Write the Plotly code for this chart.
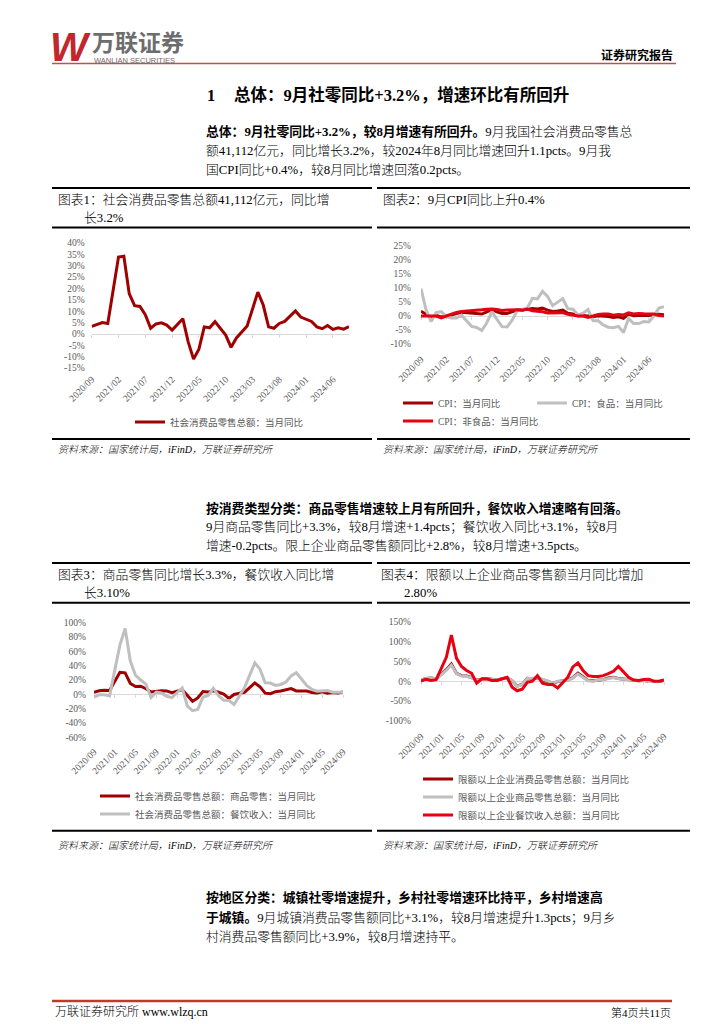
import plotly.graph_objects as go

W, H = 724, 1024

# ---------------- data ----------------
months = [
    "2020/09", "2020/10", "2020/11", "2020/12",
    "2021/01", "2021/02", "2021/03", "2021/04", "2021/05", "2021/06",
    "2021/07", "2021/08", "2021/09", "2021/10", "2021/11", "2021/12",
    "2022/01", "2022/02", "2022/03", "2022/04", "2022/05", "2022/06",
    "2022/07", "2022/08", "2022/09", "2022/10", "2022/11", "2022/12",
    "2023/01", "2023/02", "2023/03", "2023/04", "2023/05", "2023/06",
    "2023/07", "2023/08", "2023/09", "2023/10", "2023/11", "2023/12",
    "2024/01", "2024/02", "2024/03", "2024/04", "2024/05", "2024/06",
    "2024/07", "2024/08", "2024/09",
]

# 图表1 社会消费品零售总额：当月同比 (%)
retail_yoy = [3.3, 4.3, 5.0, 4.6,
              None, 33.8, 34.2, 17.7, 12.4, 12.1, 8.5, 2.5, 4.4, 4.9, 3.9, 1.7,
              None, 6.7, -3.5, -11.1, -6.7, 3.1, 2.7, 5.4, 2.5, -0.5, -5.9, -1.8,
              None, 3.5, 10.6, 18.4, 12.7, 3.1, 2.5, 4.6, 5.5, 7.6, 10.1, 7.4,
              None, 5.5, 3.1, 2.3, 3.7, 2.0, 2.7, 2.1, 3.2]

# 图表2 CPI (%)
cpi_yoy = [1.7, 0.5, -0.5, 0.2,
           -0.3, -0.2, 0.4, 0.9, 1.3, 1.1, 1.0, 0.8, 0.7, 1.5, 2.3, 1.5,
           0.9, 0.9, 1.5, 2.1, 2.1, 2.5, 2.7, 2.5, 2.8, 2.1, 1.6, 1.8,
           2.1, 1.0, 0.7, 0.1, 0.2, 0.0, -0.3, 0.1, 0.0, -0.2, -0.5, -0.3,
           -0.8, 0.7, 0.1, 0.3, 0.3, 0.2, 0.5, 0.6, 0.4]
cpi_food_yoy = [9.8, 2.2, -2.0, 1.2,
                1.6, -0.2, -0.7, -0.7, 0.3, -1.7, -3.7, -4.1, -5.2, -2.4, 1.6, -1.2,
                -3.8, -3.9, -1.5, 1.9, 2.3, 2.9, 6.3, 6.1, 8.8, 7.0, 3.7, 4.8,
                6.2, 2.6, 2.4, 0.4, 1.0, 2.3, -1.7, -1.7, -3.2, -4.0, -4.2, -3.7,
                -5.9, -0.9, -2.7, -2.7, -2.0, -2.1, 0.0, 2.8, 3.3]
cpi_nonfood_yoy = [0.0, 0.1, 0.0, 0.0,
                   -0.7, 0.0, 0.7, 1.3, 1.6, 1.7, 2.0, 2.1, 2.2, 2.4, 2.5, 2.3,
                   2.0, 2.1, 2.2, 2.2, 2.1, 2.5, 1.9, 1.8, 1.5, 1.1, 1.1, 1.1,
                   1.2, 0.6, 0.3, 0.0, 0.0, -0.5, 0.0, 0.5, 0.7, 0.7, 0.3, 0.5,
                   0.4, 1.1, 0.7, 0.9, 0.8, 0.8, 0.7, 0.2, 0.0]

# 图表3 商品零售 / 餐饮收入 (%)
goods_yoy = [2.9, 4.9, 5.8, 5.4,
             None, 30.7, 30.0, 15.1, 10.9, 11.3, 7.9, 3.3, 4.5, 5.2, 4.8, 2.5,
             None, 6.5, -2.1, -9.7, -5.0, 3.9, 3.2, 5.1, 3.0, 0.5, -5.6, -0.1,
             None, 2.9, 9.1, 15.9, 10.5, 1.7, 1.0, 3.7, 4.6, 6.5, 8.0, 4.8,
             None, 4.6, 2.7, 2.0, 3.6, 1.6, 2.7, 1.9, 3.3]
catering_yoy = [-4.0, -0.6, -0.6, -2.1,
                None, 68.9, 91.6, 46.4, 26.6, 20.0, 14.3, -4.5, 3.1, 2.0, -2.7, -4.5,
                None, 8.9, -16.4, -22.7, -21.1, -4.0, -1.5, 8.4, -1.7, -8.1, -8.4, -14.1,
                None, 9.2, 26.3, 43.8, 35.1, 16.1, 15.8, 12.4, 13.8, 17.1, 25.8, 30.0,
                None, 12.5, 6.9, 4.4, 5.0, 5.4, 3.0, 3.3, 3.1]

# 图表4 限额以上企业 (%)
above_total_yoy = [3, 7, 8, 6,
                   None, 29, 43, 20, 14, 13, 9, 3, 5, 6, 5, 3,
                   None, 9, 1, -12, -8, 7, 6, 8, 4, 0, -5, -1,
                   None, 3, 9, 20, 11, 2, 1, 3, 4, 8, 10, 7,
                   None, 4, 2, 1, 2, -1, -1, -1, 2]
above_goods_yoy = [3, 7, 8, 6,
                   None, 27, 40, 19, 13, 12, 9, 2, 5, 6, 5, 3,
                   None, 9, 2, -13, -8, 7, 7, 8, 5, 1, -5, 0,
                   None, 2, 8, 18, 10, 1, 0, 3, 4, 7, 9, 6,
                   None, 4, 2, 1, 2, -1, -1, -1, 2.8]
above_catering_yoy = [0, 5, 2, 4,
                      None, 60, 116, 58, 37, 27, 20, -5, 6, 6, 2, 2,
                      None, 10, -15, -24, -20, -3, 0, 14, -5, -8, -8, -17,
                      None, 10, 36, 46, 27, 14, 12, 12, 14, 19, 25, 37,
                      None, 10, 3, 2, 4, 5, 0, 0, 3]

# ---------------- style ----------------
DARK_RED = "#a00000"
GRAY = "#bfbfbf"
RED = "#e50012"
AXIS_GRAY = "#d9d9d9"
LABEL_GRAY = "#595959"
CJK_FONT = "Liberation Serif, Noto Sans CJK SC"
TICK_FONT = dict(family="Liberation Serif, Noto Sans CJK SC", size=9.5, color=LABEL_GRAY)


def fx(p):
    return p / W


def fy(p):
    return 1 - p / H


idx = list(range(len(months)))

charts = [
    dict(left=91.7, right=349, top=243, bottom=368, yr=(-15, 40), ystep=5, xstep=5, gap=6, xgap=3,
         series=[(retail_yoy, DARK_RED, "社会消费品零售总额：当月同比", (135, 422))]),
    dict(left=421, right=664, top=246, bottom=344, yr=(-10, 25), ystep=5, xstep=5, gap=9, xgap=7,
         series=[(cpi_yoy, DARK_RED, "CPI：当月同比", (403, 403)),
                 (cpi_food_yoy, GRAY, "CPI：食品：当月同比", (537, 403)),
                 (cpi_nonfood_yoy, RED, "CPI：非食品：当月同比", (403, 421))]),
    dict(left=94, right=343, top=622.5, bottom=737.5, yr=(-60, 100), ystep=20, xstep=4, gap=7, xgap=6,
         series=[(goods_yoy, DARK_RED, "社会消费品零售总额：商品零售：当月同比", (100, 796)),
                 (catering_yoy, GRAY, "社会消费品零售总额：餐饮收入：当月同比", (100, 814))]),
    dict(left=421, right=664, top=621.5, bottom=721, yr=(-100, 150), ystep=50, xstep=4, gap=9, xgap=7,
         series=[(above_total_yoy, DARK_RED, "限额以上企业消费品零售总额：当月同比", (423, 779)),
                 (above_goods_yoy, GRAY, "限额以上企业商品零售总额：当月同比", (423, 797)),
                 (above_catering_yoy, RED, "限额以上企业餐饮收入总额：当月同比", (423, 815))]),
]

fig = go.Figure()
lay = {}
legend_no = 0
for k, c in enumerate(charts, start=1):
    s = "" if k == 1 else str(k)
    xa, ya = "x" + s, "y" + s
    lab = "x" + str(k + 4)
    lo, hi = c["yr"]
    dom_y = [fy(c["bottom"]), fy(c["top"])]
    zero_pos = dom_y[0] + (0 - lo) / (hi - lo) * (dom_y[1] - dom_y[0])
    xt = idx[::c["xstep"]]
    ytv = list(range(lo, hi + 1, c["ystep"]))
    lay["xaxis" + s] = dict(domain=[fx(c["left"]), fx(c["right"])], range=[0, len(months) - 1],
                            anchor="free", position=zero_pos, showline=True, linecolor=AXIS_GRAY,
                            linewidth=1, ticks="outside", ticklen=3, tickwidth=1, tickcolor=AXIS_GRAY,
                            tickvals=xt, showticklabels=False, showgrid=False, zeroline=False,
                            layer="below traces", automargin=False)
    lay["yaxis" + s] = dict(domain=dom_y, range=[lo, hi], anchor=xa, tickvals=ytv,
                            ticktext=[f"{v}%" for v in ytv], tickfont=TICK_FONT, showgrid=False,
                            zeroline=False, showline=False, ticks="", ticklabelstandoff=c["gap"],
                            automargin=False)
    lay["xaxis" + str(k + 4)] = dict(overlaying=xa, anchor=ya, side="bottom",
                                     range=[0, len(months) - 1], tickvals=xt,
                                     ticktext=[months[i] for i in xt], tickangle=-45,
                                     tickfont=TICK_FONT, showgrid=False, zeroline=False,
                                     showline=False, ticks="", ticklabelstandoff=c["xgap"],
                                     automargin=False)
    fig.add_trace(go.Scatter(x=idx, y=c["series"][0][0], xaxis=lab, yaxis=ya, mode="lines",
                             line=dict(width=0), opacity=0, showlegend=False, hoverinfo="skip"))
    for vals, color, name, (lx, ly) in c["series"]:
        legend_no += 1
        lname = "legend" if legend_no == 1 else f"legend{legend_no}"
        fig.add_trace(go.Scatter(x=idx, y=vals, xaxis=xa, yaxis=ya, mode="lines",
                                 line=dict(color=color, width=3), connectgaps=True,
                                 name=name, legend=lname, hoverinfo="skip"))
        lay[lname] = dict(x=fx(lx - 5), y=fy(ly), xanchor="left", yanchor="middle",
                          orientation="h", bgcolor="rgba(0,0,0,0)", borderwidth=0,
                          itemwidth=30, font=dict(family=CJK_FONT, size=9.5, color=LABEL_GRAY))


def txt(x, y, s, size=12.8, color="#000000", anchor="left", family=CJK_FONT, style="normal",
        weight="normal"):
    return dict(x=fx(x), y=fy(y), xref="paper", yref="paper", text=s, showarrow=False,
                xanchor=anchor, yanchor="middle", borderpad=0,
                font=dict(family=family, size=size, color=color, style=style, weight=weight))


def hline(x0, x1, y, width, color="#000000"):
    return dict(type="line", xref="paper", yref="paper", x0=fx(x0), x1=fx(x1),
                y0=fy(y), y1=fy(y), line=dict(color=color, width=width))


BODY_W = 300
annotations = [
    # header
    txt(70, 47, "<b><i>W</i></b>", size=40, color="#c1272d", anchor="center",
        family="Liberation Sans"),
    txt(91, 41, "<b>万联证券</b>", size=23, color="#6d6d6d", family="Noto Sans CJK SC"),
    txt(93, 60.6, "WANLIAN SECURITIES", size=7.5, color="#6d6d6d", family="Liberation Sans"),
    txt(674, 55, "<b>证券研究报告</b>", size=12, anchor="right"),
    # section title
    txt(206, 95, "<b>1</b>", size=16.5),
    txt(233, 95, "<b>总体：9月社零同比+3.2%，增速环比有所回升</b>", size=16.5),
    # paragraph 1
    txt(205, 131.5, "<b>总体：9月社零同比+3.2%，较8月增速有所回升。</b>9月我国社会消费品零售总",
        weight=BODY_W),
    txt(205, 150.5, "额41,112亿元，同比增长3.2%，较2024年8月同比增速回升1.1pcts。9月我",
        weight=BODY_W),
    txt(205, 169.5, "国CPI同比+0.4%，较8月同比增速回落0.2pcts。", weight=BODY_W),
    # chart titles 1/2
    txt(57, 200, "图表1：社会消费品零售总额41,112亿元，同比增", weight=BODY_W),
    txt(83, 218.3, "长3.2%", weight=BODY_W),
    txt(382, 200, "图表2：9月CPI同比上升0.4%", weight=BODY_W),
    # sources 1/2
    txt(57, 449, "资料来源：国家统计局，iFinD，万联证券研究所", size=10, style="italic",
        weight=BODY_W),
    txt(382, 449, "资料来源：国家统计局，iFinD，万联证券研究所", size=10, style="italic",
        weight=BODY_W),
    # paragraph 2
    txt(205, 508, "<b>按消费类型分类：商品零售增速较上月有所回升，餐饮收入增速略有回落。</b>"),
    txt(205, 527, "9月商品零售同比+3.3%，较8月增速+1.4pcts；餐饮收入同比+3.1%，较8月",
        weight=BODY_W),
    txt(205, 546, "增速-0.2pcts。限上企业商品零售额同比+2.8%，较8月增速+3.5pcts。",
        weight=BODY_W),
    # chart titles 3/4
    txt(57, 575, "图表3：商品零售同比增长3.3%，餐饮收入同比增", weight=BODY_W),
    txt(83, 593.3, "长3.10%", weight=BODY_W),
    txt(380, 575, "图表4：限额以上企业商品零售额当月同比增加", weight=BODY_W),
    txt(403, 593.3, "2.80%", weight=BODY_W),
    # sources 3/4
    txt(57, 845, "资料来源：国家统计局，iFinD，万联证券研究所", size=10, style="italic",
        weight=BODY_W),
    txt(382, 845, "资料来源：国家统计局，iFinD，万联证券研究所", size=10, style="italic",
        weight=BODY_W),
    # paragraph 3
    txt(205, 897, "<b>按地区分类：城镇社零增速提升，乡村社零增速环比持平，乡村增速高</b>"),
    txt(205, 917, "<b>于城镇。</b>9月城镇消费品零售额同比+3.1%，较8月增速提升1.3pcts；9月乡",
        weight=BODY_W),
    txt(205, 937, "村消费品零售额同比+3.9%，较8月增速持平。", weight=BODY_W),
    # footer
    txt(54, 1012, "万联证券研究所 www.wlzq.cn", size=12, weight=BODY_W),
    txt(672, 1012, "第4页共11页", size=11, anchor="right", weight=BODY_W),
]

shapes = [
    hline(52, 676, 63.5, 1.5, "#c0504d"),
    hline(52, 372, 188, 2), hline(52, 372, 227.5, 2), hline(52, 372, 439, 2),
    hline(377, 690, 188, 2), hline(377, 690, 227.5, 2), hline(377, 690, 439, 2),
    hline(52, 372, 563, 2), hline(52, 372, 602.7, 2), hline(52, 372, 830.7, 2),
    hline(377, 690, 563, 2), hline(377, 690, 602.7, 2), hline(377, 690, 830.7, 2),
    hline(52, 672, 1001, 2.5, "#c0392b"),
]

fig.update_layout(**lay)
fig.update_layout(width=W, height=H, margin=dict(l=0, r=0, t=0, b=0, autoexpand=False),
                  paper_bgcolor="white", plot_bgcolor="rgba(0,0,0,0)", showlegend=True,
                  annotations=annotations, shapes=shapes)

fig.write_html(
    "out.html",
    config={"displayModeBar": False},
    post_script=(
        "document.documentElement.style.margin='0';"
        "document.body.style.margin='0';document.body.style.overflow='hidden';"
        "var d=document.getElementById('{plot_id}');"
        "d.style.position='absolute';d.style.left='0px';d.style.top='0px';"
    ),
)
